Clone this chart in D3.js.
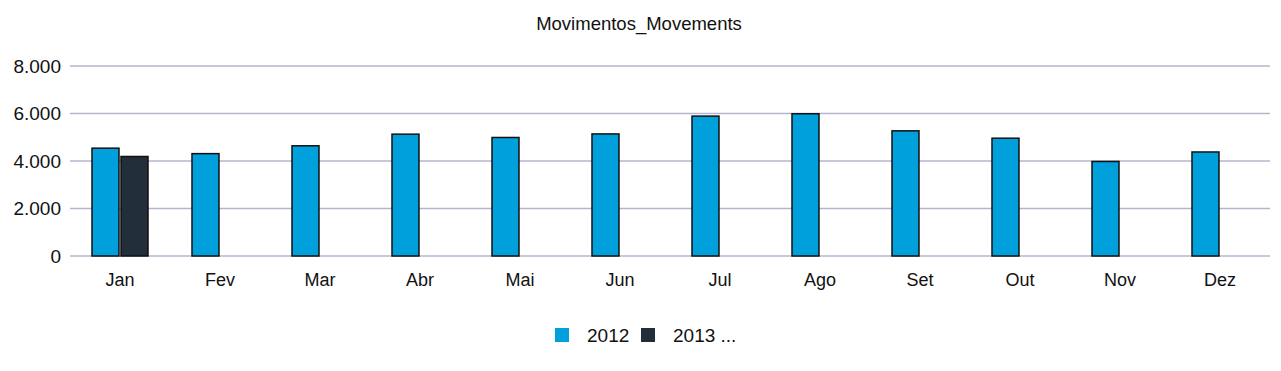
<!DOCTYPE html>
<meta charset="utf-8">
<head>
    <style>
        body { margin: 0; background: #fff; }
        text { font-family: "Liberation Sans", Arial, sans-serif; fill: #111; }
    </style>
    <script src="https://d3js.org/d3.v7.min.js"></script>
</head>
<div id="my_dataviz"></div>

<script>

// data
var months = ["Jan", "Fev", "Mar", "Abr", "Mai", "Jun", "Jul", "Ago", "Set", "Out", "Nov", "Dez"];
var values2012 = [4540, 4310, 4640, 5130, 4990, 5140, 5890, 5990, 5270, 4960, 3980, 4380];
var values2013 = [4190, null, null, null, null, null, null, null, null, null, null, null];
var seriesNames = ["2012", "2013 ..."];
var seriesColors = ["#00a0dc", "#222f3a"];
var yTicks = [0, 2000, 4000, 6000, 8000];

var margin = {top: 66, right: 11, bottom: 115, left: 70},
    width = 1281 - margin.left - margin.right,
    height = 371 - margin.top - margin.bottom;

var svg = d3.select("#my_dataviz")
  .append("svg")
    .attr("width", 1281)
    .attr("height", 371)
  .append("g")
    .attr("transform", "translate(" + margin.left + "," + margin.top + ")");

var x = d3.scaleBand().domain(months).range([0, width]);
var y = d3.scaleLinear().domain([0, 8000]).range([height, 0]);

// inner positions of the two series in each month
var xSub = d3.scaleBand().domain([0, 1]).range([22, 78]).paddingInner(0.07);

var fmt = d3.format(",");

// grid lines
svg.append("g")
  .selectAll("line")
  .data(yTicks)
  .enter().append("line")
    .attr("x1", 0)
    .attr("x2", width)
    .attr("y1", d => y(d))
    .attr("y2", d => y(d))
    .attr("stroke", "#b8b4d0")
    .attr("stroke-width", 1.5);

// y labels
svg.append("g")
  .selectAll("text")
  .data(yTicks)
  .enter().append("text")
    .attr("x", -9)
    .attr("y", d => y(d))
    .attr("dy", "0.35em")
    .attr("text-anchor", "end")
    .style("font-size", "19px")
    .text(d => fmt(d).replace(/,/g, "."));

// x labels
svg.append("g")
  .selectAll("text")
  .data(months)
  .enter().append("text")
    .attr("x", d => x(d) + x.bandwidth() / 2)
    .attr("y", height + 30)
    .attr("text-anchor", "middle")
    .style("font-size", "18px")
    .text(d => d);

// bars
var series = [values2012, values2013];
series.forEach(function(vals, i) {
    svg.append("g")
      .selectAll("rect")
      .data(months.map((m, j) => ({month: m, value: vals[j]})).filter(d => d.value != null))
      .enter().append("rect")
        .attr("x", d => x(d.month) + xSub(i))
        .attr("y", d => y(d.value))
        .attr("width", xSub.bandwidth())
        .attr("height", d => height - y(d.value))
        .attr("fill", seriesColors[i])
        .attr("stroke", "#111")
        .attr("stroke-width", 1.5);
});

// title
svg.append("text")
    .attr("x", 639 - margin.left)
    .attr("y", 30 - margin.top)
    .attr("text-anchor", "middle")
    .style("font-size", "18.5px")
    .text("Movimentos_Movements");

// legend
var legendX = [555, 641];
var legend = svg.append("g")
    .attr("transform", "translate(" + (-margin.left) + "," + (-margin.top) + ")");
seriesNames.forEach(function(name, i) {
    legend.append("rect")
        .attr("x", legendX[i])
        .attr("y", 328)
        .attr("width", 14)
        .attr("height", 14)
        .attr("fill", seriesColors[i]);
    legend.append("text")
        .attr("x", legendX[i] + 32)
        .attr("y", 342)
        .style("font-size", "19px")
        .text(name);
});

</script>
